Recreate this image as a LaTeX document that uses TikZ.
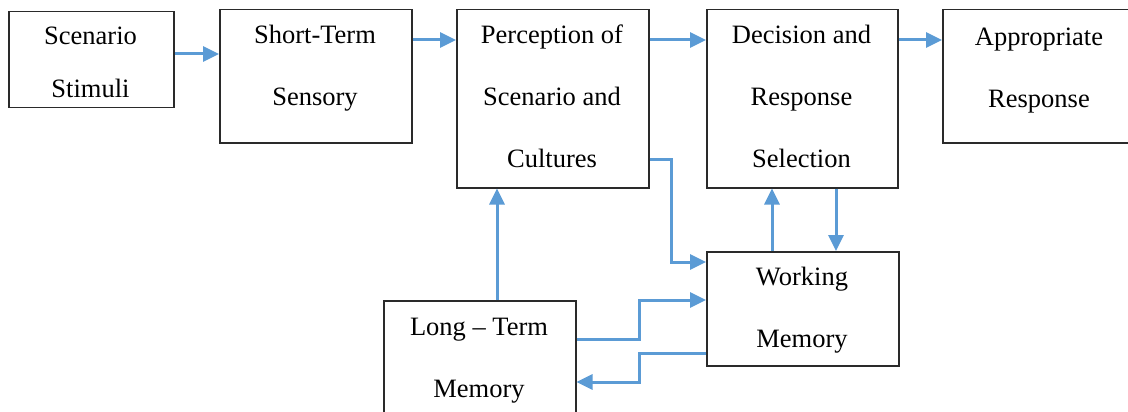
\documentclass[tikz,border=0pt]{standalone}
\usepackage{fontspec}
\setmainfont{Liberation Serif}
\usetikzlibrary{arrows.meta}
\definecolor{arrblue}{HTML}{5B9BD5}
\definecolor{boxline}{HTML}{2A2A2A}
\begin{document}
\begin{tikzpicture}[x=1pt,y=-1pt,
  box/.style={draw=boxline,line width=1.5pt,rectangle,anchor=north west,inner sep=0pt},
  txt/.style={anchor=base,inner sep=0pt,font=\fontsize{26.5}{30}\selectfont},
  arr/.style={draw=arrblue,line width=3pt,-{Triangle[length=16pt,width=15pt]}}]
\useasboundingbox (0,0) rectangle (1128,412);
\clip (0,0) rectangle (1128,412);
\fill[white] (0,0) rectangle (1128,412);
% boxes
\node[box,minimum width=165pt,minimum height=96pt] (ss) at (8,11) {};
\node[box,minimum width=192pt,minimum height=133pt] (st) at (219,9) {};
\node[box,minimum width=192pt,minimum height=178pt] (pe) at (456,9) {};
\node[box,minimum width=191pt,minimum height=178pt] (de) at (706,9) {};
\node[box,minimum width=194pt,minimum height=133pt] (ap) at (942,9) {};
\node[box,minimum width=192pt,minimum height=114pt] (wm) at (706,251) {};
\node[box,minimum width=192pt,minimum height=125pt] (lt) at (383,300) {};
% texts
\node[txt] (t1) at (90.5,45) {Scenario};
\node[txt] (t2) at (90.5,98) {Stimuli};
\node[txt] (t3) at (315,44) {Short-Term};
\node[txt] (t4) at (315,106) {Sensory};
\node[txt] (t5) at (552,44) {Perception of};
\node[txt] (t6) at (552,106) {Scenario and};
\node[txt] (t7) at (552,167) {Cultures};
\node[txt] (t8) at (801.5,44) {Decision and};
\node[txt] (t9) at (801.5,106) {Response};
\node[txt] (t10) at (801.5,167) {Selection};
\node[txt] (t11) at (1039,46) {Appropriate};
\node[txt] (t12) at (1039,107) {Response};
\node[txt] (t13) at (802,285) {Working};
\node[txt] (t14) at (802,347) {Memory};
\node[txt] (t15) at (479,335) {Long -- Term};
\node[txt] (t16) at (479,397) {Memory};
% connectors
\draw[arr] (ss.east |- 0,54) -- (st.west |- 0,54);
\draw[arr] (st.east |- 0,40) -- (pe.west |- 0,40);
\draw[arr] (pe.east |- 0,40) -- (de.west |- 0,40);
\draw[arr] (de.east |- 0,40) -- (ap.west |- 0,40);
\draw[arr] (pe.east |- 0,159) -- (671,159) -- (671,262) -- (wm.west |- 0,262);
\draw[arr] (wm.north -| 772,0) -- (de.south -| 772,0);
\draw[arr] (de.south -| 836,0) -- (wm.north -| 836,0);
\draw[arr] (lt.north -| 497,0) -- (pe.south -| 497,0);
\draw[arr] (lt.east |- 0,339) -- (639,339) -- (639,300) -- (wm.west |- 0,300);
\draw[arr] (wm.west |- 0,353) -- (639,353) -- (639,382) -- (lt.east |- 0,382);
\end{tikzpicture}
\end{document}
